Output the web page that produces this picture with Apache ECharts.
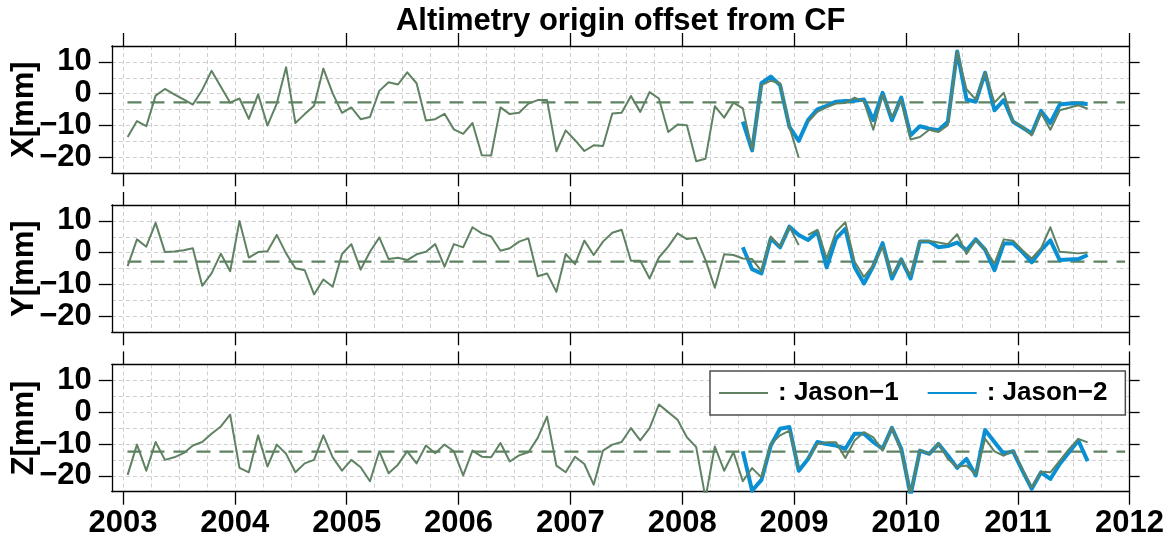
<!DOCTYPE html>
<html>
<head>
<meta charset="utf-8">
<title>Altimetry origin offset from CF</title>
<script src="https://cdn.jsdelivr.net/npm/echarts@6/dist/echarts.min.js"></script>
<style>
  html, body { margin: 0; padding: 0; background: #ffffff; }
  #chart { width: 1172px; height: 538px; }
</style>
</head>
<body>
<div id="chart"></div>
<script>
// Monthly origin offsets (mm) of the altimetry reference frame with respect to the
// centre of figure. Jason-1 is split at its move to the interleaved orbit (Feb 2009).
const jason1StartA = '2003-01';
const jason1StartB = '2009-02';
const jason2Start  = '2008-07';

const jason1X_A = [-13.6, -8.6, -10.2, -0.6, 1.5, -0.2, -1.8, -3.4, 1.2, 7.2,
  2.2, -2.8, -1.5, -7.9, -0.2, -10.0, -3.1, 8.3, -9.2, -6.4,
  -3.8, 7.9, 0.1, -6.0, -4.3, -8.0, -7.3, 0.9, 3.6, 2.9,
  6.7, 3.3, -8.4, -8.0, -6.3, -11.2, -12.6, -9.2, -19.3, -19.4,
  -4.3, -6.4, -6.0, -3.1, -2.0, -2.0, -18.1, -11.5, -14.6, -18.0,
  -16.2, -16.4, -6.2, -6.0, -0.7, -5.7, 0.5, -1.5, -12.0, -9.7,
  -9.9, -21.2, -20.4, -3.9, -7.5, -2.8, -4.6, -17.6, 2.7, 4.1,
  3.3, -10.4, -20.1];
const jason1X_B = [-8.8, -5.7, -4.2, -3.1, -2.9, -1.2, -2.5, -11.3, -0.4, -7.3,
  -2.0, -14.4, -13.6, -11.3, -12.0, -9.9, 13.3, 1.4, -1.8, 6.6,
  -2.8, 0.3, -8.8, -10.4, -13.1, -6.0, -11.3, -5.2, -4.4, -3.6, -4.7];
const jason2X = [-8.8, -17.8, 3.3, 5.4, 2.7, -10.4, -14.8, -8.3, -4.9, -3.8,
  -2.5, -2.3, -2.2, -1.8, -8.3, 0.3, -8.3, -1.2, -13.1, -10.2,
  -11.0, -11.5, -8.8, 13.3, -1.8, -2.5, 6.6, -5.2, -2.0, -8.8,
  -10.6, -12.5, -5.4, -9.2, -3.4, -3.1, -3.1, -3.2];

const jason1Y_A = [-4.2, 4.2, 1.9, 9.4, 0.2, 0.4, 0.8, 1.4, -10.4, -6.5,
  -0.3, -5.8, 10.0, -1.5, 0.2, 0.5, 5.6, -0.2, -4.9, -5.5,
  -13.1, -8.4, -10.7, -0.4, 2.7, -5.3, 0.3, 4.8, -2.0, -1.6,
  -2.3, -0.5, 0.3, 2.7, -4.4, 2.7, 1.7, 8.0, 6.1, 5.1,
  0.6, 1.4, 3.5, 4.5, -7.4, -6.5, -12.3, -0.4, -3.6, 3.8,
  -0.7, 3.5, 6.3, 7.2, -2.5, -2.5, -8.1, -1.5, 1.9, 6.1,
  4.3, 4.7, -2.3, -11.0, -0.5, -0.7, -1.8, -2.0, -5.8, 5.1,
  1.9, 8.2, 2.4];
const jason1Y_B = [5.6, 7.2, -1.8, 6.6, 9.6, -2.8, -7.6, -3.9, 1.9, -7.1,
  -2.1, -7.1, 3.7, 3.7, 3.2, 2.7, 5.8, -0.4, 4.0, 1.1,
  -3.4, 4.2, 3.8, 0.8, -1.8, 1.4, 8.0, 0.3, 0.1, -0.2, 0.1];
const jason2Y = [1.7, -5.2, -6.5, 4.5, 1.7, 8.2, 5.6, 4.0, 6.6, -4.6,
  4.4, 7.5, -4.6, -9.7, -4.2, 3.0, -8.1, -2.1, -8.1, 3.5,
  3.5, 1.7, 2.1, 3.2, 0.8, 4.2, 1.0, -5.5, 2.9, 3.0,
  0.2, -3.0, 0.8, 3.9, -2.3, -2.1, -2.0, -0.7];

const jason1Z_A = [-19.7, -10.2, -18.4, -9.4, -15.0, -14.2, -12.9, -10.5, -9.4, -6.8,
  -4.5, -0.8, -17.5, -18.9, -7.3, -17.1, -10.2, -13.1, -18.9, -16.1,
  -15.0, -7.3, -14.2, -18.4, -15.0, -17.3, -21.7, -12.3, -19.2, -16.5,
  -12.3, -16.1, -10.5, -12.9, -10.2, -12.3, -19.9, -12.1, -14.0, -14.2,
  -9.7, -15.5, -13.6, -12.6, -8.1, -1.4, -16.8, -18.9, -14.0, -16.3,
  -22.8, -12.1, -10.2, -9.4, -5.0, -8.9, -5.0, 2.4, 0.0, -2.4,
  -7.9, -11.0, -27.0, -10.8, -18.4, -12.6, -21.7, -17.6, -20.5, -10.0,
  -7.3, -5.8, -17.6];
const jason1Z_B = [-14.7, -10.0, -9.5, -9.5, -14.4, -8.9, -6.3, -7.9, -12.1, -4.9,
  -12.1, -25.5, -11.9, -13.2, -9.8, -14.7, -17.2, -16.8, -19.5, -8.4,
  -12.3, -13.7, -12.1, -17.9, -23.7, -18.7, -18.9, -15.3, -11.6, -8.4, -9.5];
const jason2Z = [-12.3, -24.7, -21.3, -10.5, -5.2, -4.7, -18.4, -14.7, -9.4, -10.0,
  -10.5, -11.5, -6.8, -6.8, -9.4, -11.5, -4.9, -11.5, -26.0, -12.1,
  -13.1, -10.0, -13.6, -17.5, -14.7, -19.9, -5.6, -9.4, -13.1, -12.3,
  -18.4, -24.1, -18.9, -21.0, -16.3, -12.6, -8.9, -15.4];

// Mean offsets shown as dashed reference lines, and the time span they cover
const meanX = -2.7;
const meanY = -2.8;
const meanZ = -12.4;
const meanSpan = [2003.04, 2011.96];

const panelNames = ['X[mm]', 'Y[mm]', 'Z[mm]'];
const yearTicks = [2003, 2004, 2005, 2006, 2007, 2008, 2009, 2010, 2011, 2012];
const mmTicks = [-20, -10, 0, 10];
const xRange = [2002.9, 2012];
const yRange = [-25, 15];

// Dashed background grid: every quarter year
const quarterTicks = [];
for (let t = 2003; t <= 2012.0001; t += 0.25) quarterTicks.push(Math.round(t * 100) / 100);

// Decimal-year time stamps at mid-month
function monthTimes(start, count) {
  const parts = start.split('-').map(Number);
  const out = [];
  for (let k = 0; k < count; k++) {
    const idx = parts[1] - 1 + k;
    out.push(parts[0] + (idx + 0.5) / 12);
  }
  return out;
}
function pairs(start, values) {
  const t = monthTimes(start, values.length);
  return values.map((v, i) => [t[i], v]);
}

const FONT = '"Liberation Sans", Arial, Helvetica, sans-serif';
const GREEN = '#5f8262';
const BLUE = '#0a90d2';
const GRID_LINE = { color: '#cfcfcf', width: 1, type: [4, 3] };
const AXIS_LINE = { color: '#000000', width: 1.3 };

const panels = [
  { name: panelNames[0], j1a: jason1X_A, j1b: jason1X_B, j2: jason2X, mean: meanX },
  { name: panelNames[1], j1a: jason1Y_A, j1b: jason1Y_B, j2: jason2Y, mean: meanY },
  { name: panelNames[2], j1a: jason1Z_A, j1b: jason1Z_B, j2: jason2Z, mean: meanZ }
];
const panelTops = [46, 205, 364.4];
const panelHeight = 127.3;

const grids = [], xAxes = [], yAxes = [], series = [];
const minusFmt = v => String(v).replace('-', '\u2212');
const yearFmt = v => String(Math.round(v));

panels.forEach((p, i) => {
  grids.push({ left: 111.8, width: 1017.8, top: panelTops[i], height: panelHeight,
    containLabel: false, outerBoundsMode: 'none', show: false });

  const xi = xAxes.length;
  // quarter-year dashed grid
  xAxes.push({ gridIndex: i, type: 'value', min: xRange[0], max: xRange[1], position: 'bottom',
    axisLine: { show: false, onZero: false },
    axisTick: { show: false, customValues: quarterTicks },
    axisLabel: { show: false },
    splitLine: { show: true, customValues: quarterTicks, lineStyle: GRID_LINE } });
  // bottom frame with year ticks
  xAxes.push({ gridIndex: i, type: 'value', min: xRange[0], max: xRange[1], position: 'bottom',
    axisLine: { show: true, onZero: false, lineStyle: AXIS_LINE },
    axisTick: { show: true, inside: false, length: 13, customValues: yearTicks, lineStyle: AXIS_LINE },
    axisLabel: { show: i === 2, customValues: yearTicks, margin: 16, hideOverlap: false,
      showMinLabel: true, showMaxLabel: true, formatter: yearFmt,
      fontFamily: FONT, fontWeight: 'bold', fontSize: 31, lineHeight: 31, color: '#000' },
    splitLine: { show: false } });
  // top frame with year ticks
  xAxes.push({ gridIndex: i, type: 'value', min: xRange[0], max: xRange[1], position: 'top',
    axisLine: { show: true, onZero: false, lineStyle: AXIS_LINE },
    axisTick: { show: true, inside: false, length: 13, customValues: yearTicks, lineStyle: AXIS_LINE },
    axisLabel: { show: false },
    splitLine: { show: false } });

  const yi = yAxes.length;
  // 5 mm dashed grid
  yAxes.push({ gridIndex: i, type: 'value', min: yRange[0], max: yRange[1], interval: 5, position: 'left',
    axisLine: { show: false, onZero: false }, axisTick: { show: false }, axisLabel: { show: false },
    splitLine: { show: true, lineStyle: GRID_LINE } });
  // left frame with labels and panel name
  yAxes.push({ gridIndex: i, type: 'value', min: yRange[0], max: yRange[1], position: 'left',
    axisLine: { show: true, onZero: false, lineStyle: AXIS_LINE },
    axisTick: { show: true, inside: false, length: 13, customValues: mmTicks, lineStyle: AXIS_LINE },
    axisLabel: { show: true, customValues: mmTicks, margin: 20, formatter: minusFmt,
      fontFamily: FONT, fontWeight: 'bold', fontSize: 31, lineHeight: 31, color: '#000' },
    splitLine: { show: false },
    name: p.name, nameLocation: 'middle', nameRotate: 90, nameGap: 72, nameMoveOverlap: false,
    nameTextStyle: { fontFamily: FONT, fontWeight: 'bold', fontSize: 31, lineHeight: 31, color: '#000' } });
  // right frame with ticks only
  yAxes.push({ gridIndex: i, type: 'value', min: yRange[0], max: yRange[1], position: 'right',
    axisLine: { show: true, onZero: false, lineStyle: AXIS_LINE },
    axisTick: { show: true, inside: false, length: 10, customValues: mmTicks, lineStyle: AXIS_LINE },
    axisLabel: { show: false },
    splitLine: { show: false } });

  const axes = { xAxisIndex: xi + 1, yAxisIndex: yi + 1 };

  series.push(Object.assign({
    type: 'line', name: 'mean', silent: true, symbol: 'none', animation: false, z: 3,
    data: [[meanSpan[0], p.mean], [meanSpan[1], p.mean]],
    lineStyle: { color: GREEN, width: 2.2, type: [14, 9] }
  }, axes));
  series.push(Object.assign({
    type: 'line', name: 'Jason-2', symbol: 'none', animation: false, z: 4,
    data: pairs(jason2Start, p.j2),
    itemStyle: { color: BLUE },
    lineStyle: { color: BLUE, width: 4, join: 'round' }
  }, axes));
  [[jason1StartA, p.j1a], [jason1StartB, p.j1b]].forEach(seg => {
    series.push(Object.assign({
      type: 'line', name: 'Jason-1', symbol: 'none', animation: false, z: 5,
      data: pairs(seg[0], seg[1]),
      itemStyle: { color: GREEN },
      lineStyle: { color: GREEN, width: 2, join: 'round' }
    }, axes));
  });
});

const chart = echarts.init(document.getElementById('chart'), null, { renderer: 'canvas' });
chart.setOption({
  animation: false,
  backgroundColor: '#ffffff',
  title: {
    text: 'Altimetry origin offset from CF',
    left: 620.7, top: 5.5, textAlign: 'center', padding: 0,
    textStyle: { fontFamily: FONT, fontWeight: 'bold', fontSize: 31, lineHeight: 31, color: '#000' }
  },
  legend: {
    data: ['Jason-1', 'Jason-2'],
    left: 710, top: 371, orient: 'horizontal',
    padding: [7, 18, 7, 8],
    itemWidth: 49, itemHeight: 14, itemGap: 28,
    backgroundColor: '#ffffff', borderColor: '#4d4d4d', borderWidth: 1.5, borderRadius: 0,
    selectedMode: false,
    itemStyle: { opacity: 0 },
    formatter: n => ': ' + n.replace('-', '\u2212'),
    textStyle: { fontFamily: FONT, fontWeight: 'bold', fontSize: 26, lineHeight: 30, color: '#000',
      padding: [0, 0, 0, 5] }
  },
  grid: grids,
  xAxis: xAxes,
  yAxis: yAxes,
  series: series
});
</script>
</body>
</html>
